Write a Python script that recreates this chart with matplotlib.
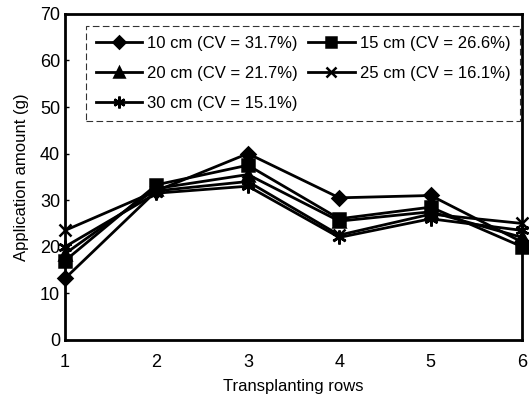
import matplotlib
matplotlib.use("Agg")
import matplotlib.pyplot as plt

plt.rcParams["font.family"] = ["Liberation Sans", "DejaVu Sans"]

rows = [1, 2, 3, 4, 5, 6]
labels = [
    "10 cm (CV = 31.7%)",
    "15 cm (CV = 26.6%)",
    "20 cm (CV = 21.7%)",
    "25 cm (CV = 16.1%)",
    "30 cm (CV = 15.1%)",
]
amount_10 = [13.2, 32.0, 40.0, 30.5, 31.0, 21.0]
amount_15 = [17.0, 33.3, 37.5, 26.0, 28.5, 20.0]
amount_20 = [18.5, 32.5, 35.5, 25.5, 27.5, 22.0]
amount_25 = [23.5, 32.0, 34.0, 22.5, 27.0, 25.0]
amount_30 = [20.0, 31.5, 33.0, 22.0, 26.0, 23.5]
markers = ["D", "s", "^", "x", (6, 2, 0)]
sizes = [7, 8, 8, 9, 10]

fig = plt.figure(figsize=(5.29, 4.08), dpi=100)
ax = fig.add_axes([0.123, 0.167, 0.864, 0.799])

series = [amount_10, amount_15, amount_20, amount_25, amount_30]
lines = []
for vals, lab, m, s in zip(series, labels, markers, sizes):
    ln, = ax.plot(rows, vals, color="black", linewidth=2.0, marker=m, markersize=s,
                  markeredgewidth=1.8, label=lab, clip_on=False)
    lines.append(ln)

ax.set_xlim(1, 6)
ax.set_ylim(0, 70)
ax.set_xticks(rows)
ax.set_yticks(range(0, 71, 10))
ax.tick_params(axis="both", direction="in", length=3, labelsize=13, width=1)
ax.tick_params(axis="x", length=0, pad=10)
for sp in ax.spines.values():
    sp.set_linewidth(2)

ax.set_xlabel("Transplanting rows", fontsize=12, labelpad=6)
ax.set_ylabel("Application amount (g)", fontsize=12, labelpad=8)

# row-wise legend order: 10, 15 / 20, 25 / 30
order = [0, 2, 4, 1, 3]
leg = ax.legend([lines[i] for i in order], [labels[i] for i in order],
                ncol=2, loc="upper right", bbox_to_anchor=(1.0, 0.967),
                fontsize=12, frameon=True, fancybox=False, handlelength=2.8,
                markerscale=0.85, columnspacing=0.6, handletextpad=0.3,
                borderpad=0.6, labelspacing=0.9, borderaxespad=0.1)
frame = leg.get_frame()
frame.set_edgecolor("black")
frame.set_linestyle((0, (6, 3)))
frame.set_linewidth(0.8)

fig.savefig("out.png", dpi=100)
